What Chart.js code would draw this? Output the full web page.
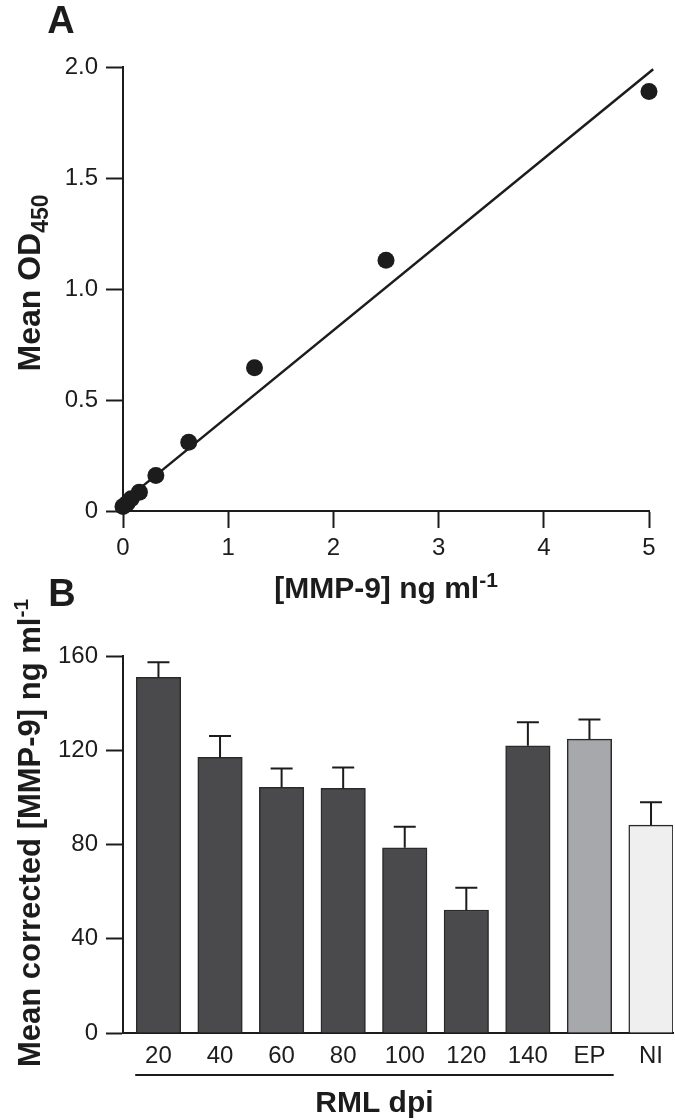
<!DOCTYPE html>
<html>
<head>
<meta charset="utf-8">
<script src="https://cdn.jsdelivr.net/npm/chart.js@4.4.0/dist/chart.umd.min.js"></script>
<style>
  html, body { margin: 0; padding: 0; background: #fff; }
  body { width: 675px; height: 1119px; position: relative; overflow: hidden; }
  .panel { position: absolute; left: 0; width: 675px; }
  #panelA { top: 0; height: 615px; }
  #panelB { top: 570px; height: 549px; }
</style>
</head>
<body>
<div class="panel" id="panelA"><canvas id="chartA" width="675" height="615"></canvas></div>
<div class="panel" id="panelB"><canvas id="chartB" width="675" height="549"></canvas></div>
<script>
// Panel A - MMP-9 standard curve
const stdConc = [0, 0.039, 0.078, 0.156, 0.3125, 0.625, 1.25, 2.5, 5];
const stdOD = [0.02, 0.035, 0.055, 0.085, 0.16, 0.31, 0.645, 1.13, 1.89];
// regression line end points
const fitConc = [0, 5.04];
const fitOD = [0.04, 1.99];

// Panel B - MMP-9 by dpi
const dpiLabels = ['20', '40', '60', '80', '100', '120', '140', 'EP', 'NI'];
const mmpMean = [151, 117, 104.3, 103.8, 78.6, 52.2, 121.9, 124.7, 88.2];
const mmpErr = [6.4, 9.1, 8, 8.9, 8.9, 9.4, 10, 8.4, 9.7];

const FONT = "'Liberation Sans', Arial, Helvetica, sans-serif";
const INK = '#1c1c1c';
const DARK = '#4a4a4d';
const barColors = [DARK, DARK, DARK, DARK, DARK, DARK, DARK, '#a7a8ab', '#efefef'];

// text with sub/superscript pieces, centred on (x, y) baseline
function drawRich(ctx, parts, x, y, rot) {
    ctx.save();
    ctx.translate(x, y);
    if (rot) ctx.rotate(rot);
    ctx.fillStyle = INK;
    ctx.textBaseline = 'alphabetic';
    ctx.textAlign = 'left';
    let total = 0;
    parts.forEach(p => { ctx.font = p.font; total += ctx.measureText(p.text).width; });
    let cx = -total / 2;
    parts.forEach(p => {
        ctx.font = p.font;
        ctx.fillText(p.text, cx, p.dy || 0);
        cx += ctx.measureText(p.text).width;
    });
    ctx.restore();
}

const bold = px => 'bold ' + px + 'px ' + FONT;
const TITLE = bold(30);
const PANEL = bold(38);

function axisStyle(extra) {
    return Object.assign({
        grid: { drawOnChartArea: false, drawTicks: true, tickLength: 17, tickWidth: 2, tickColor: INK },
        border: { display: true, color: INK, width: 2 }
    }, extra);
}

const titlesA = {
    id: 'titlesA',
    afterDraw(chart) {
        const ctx = chart.ctx, a = chart.chartArea;
        drawRich(ctx, [{ text: 'A', font: PANEL }], 61, 33);
        drawRich(ctx, [{ text: 'Mean OD', font: bold(32) }, { text: '450', font: bold(23), dy: 8 }],
            40, 283, -Math.PI / 2);
        drawRich(ctx, [{ text: '[MMP-9] ng ml', font: TITLE }, { text: '-1', font: bold(21), dy: -11 }],
            (a.left + a.right) / 2, 598);
    }
};

new Chart(document.getElementById('chartA'), {
    type: 'scatter',
    data: {
        datasets: [{
            type: 'line',
            data: fitConc.map((x, i) => ({ x: x, y: fitOD[i] })),
            borderColor: INK,
            borderWidth: 2.5,
            pointRadius: 0,
            clip: false
        }, {
            data: stdConc.map((x, i) => ({ x: x, y: stdOD[i] })),
            backgroundColor: INK,
            borderWidth: 0,
            pointRadius: 8.5,
            clip: false
        }]
    },
    options: {
        responsive: false,
        animation: false,
        layout: { padding: { top: 67, right: 26, bottom: 0, left: 0 } },
        plugins: { legend: { display: false }, tooltip: { enabled: false } },
        scales: {
            x: axisStyle({
                type: 'linear', min: 0, max: 5,
                ticks: { color: INK, font: { family: FONT, size: 24 }, padding: 6, stepSize: 1 },
                afterFit(s) { s.height = 104; }
            }),
            y: axisStyle({
                type: 'linear', min: 0, max: 2,
                ticks: {
                    color: INK, font: { family: FONT, size: 24 }, padding: 8, stepSize: 0.5,
                    callback: v => v === 0 ? '0' : v.toFixed(1)
                },
                afterFit(s) { s.width = 123; }
            })
        }
    },
    plugins: [titlesA]
});

const extrasB = {
    id: 'extrasB',
    afterDatasetsDraw(chart) {
        const ctx = chart.ctx, ys = chart.scales.y;
        const bars = chart.getDatasetMeta(0).data;
        ctx.save();
        ctx.strokeStyle = INK;
        ctx.lineWidth = 2;
        bars.forEach((bar, i) => {
            const top = ys.getPixelForValue(mmpMean[i] + mmpErr[i]);
            ctx.beginPath();
            ctx.moveTo(bar.x, bar.y);
            ctx.lineTo(bar.x, top);
            ctx.moveTo(bar.x - 11, top);
            ctx.lineTo(bar.x + 11, top);
            ctx.stroke();
        });
        ctx.restore();
    },
    afterDraw(chart) {
        const ctx = chart.ctx, a = chart.chartArea;
        const bars = chart.getDatasetMeta(0).data;
        const x0 = bars[0].x - bars[0].width / 2 - 1;
        const x1 = bars[7].x + bars[7].width / 2 + 2;
        ctx.save();
        ctx.strokeStyle = INK;
        ctx.lineWidth = 2;
        ctx.beginPath();
        ctx.moveTo(x0, a.bottom + 42);
        ctx.lineTo(x1, a.bottom + 42);
        ctx.stroke();
        ctx.restore();
        drawRich(ctx, [{ text: 'RML dpi', font: TITLE }], (x0 + x1) / 2, a.bottom + 79);
        drawRich(ctx, [{ text: 'B', font: PANEL }], 62, 36);
        drawRich(ctx, [{ text: 'Mean corrected [MMP-9] ng ml', font: bold(31) }, { text: '-1', font: bold(21), dy: -12 }],
            40, 263, -Math.PI / 2);
    }
};

new Chart(document.getElementById('chartB'), {
    type: 'bar',
    data: {
        datasets: [{
            data: dpiLabels.map((l, i) => ({ x: i + 1, y: mmpMean[i] })),
            backgroundColor: barColors,
            borderColor: '#2a2a2a',
            borderWidth: 1.5,
            barThickness: 44.5
        }]
    },
    options: {
        responsive: false,
        animation: false,
        layout: { padding: { top: 86, right: 2, bottom: 0, left: 0 } },
        plugins: { legend: { display: false }, tooltip: { enabled: false } },
        scales: {
            x: {
                type: 'linear', min: 0.424, max: 9.357, offset: false,
                grid: { display: false, drawTicks: false },
                border: { display: true, color: INK, width: 2 },
                afterBuildTicks(s) { s.ticks = dpiLabels.map((l, i) => ({ value: i + 1 })); },
                ticks: {
                    color: INK, font: { family: FONT, size: 24 }, padding: 9,
                    autoSkip: false, maxRotation: 0,
                    callback: v => dpiLabels[v - 1]
                },
                afterFit(s) { s.height = 86; }
            },
            y: axisStyle({
                type: 'linear', min: 0, max: 160,
                ticks: { color: INK, font: { family: FONT, size: 24 }, padding: 8, stepSize: 40 },
                afterFit(s) { s.width = 123; }
            })
        }
    },
    plugins: [extrasB]
});
</script>
</body>
</html>
